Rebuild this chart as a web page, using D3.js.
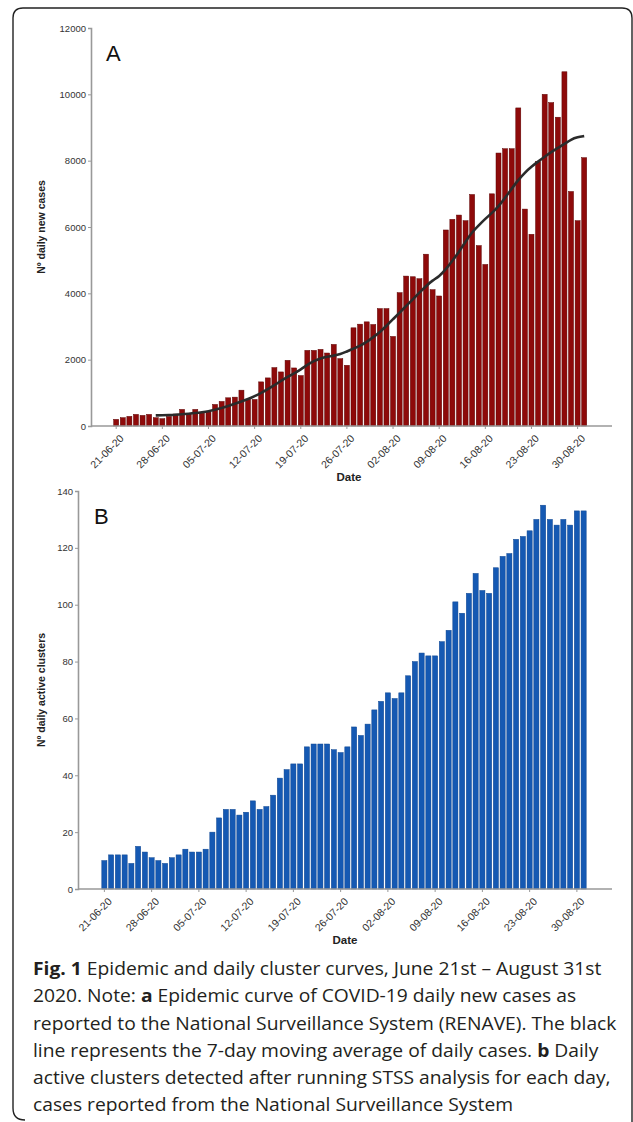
<!DOCTYPE html>
<html>
<head>
<meta charset="utf-8">
<script src="https://cdnjs.cloudflare.com/ajax/libs/d3/7.8.5/d3.min.js"></script>
<style>
  body { margin: 0; background: #fff; }
  svg { display: block; }
  .tick text { font-family: "Liberation Sans", Arial, sans-serif; fill: #333; }
</style>
</head>
<body>
<div id="chart"></div>
<script>
// day-by-day values, 21-06-20 .. 31-08-20
var dailyCases = [200, 250, 290, 350, 320, 350, 250, 220, 290, 360,
  500, 370, 500, 390, 420, 650, 740, 850, 870, 1080,
  800, 800, 1330, 1450, 1760, 1630, 1980, 1750, 1520, 2280,
  2280, 2310, 2200, 2460, 2030, 1830, 2960, 3070, 3140, 3060,
  3540, 3540, 2700, 4020, 4520, 4500, 4440, 5180, 4110, 3920,
  5910, 6230, 6360, 6190, 6980, 5440, 4870, 7000, 8230, 8360,
  8360, 9590, 6540, 5780, 7970, 10000, 9750, 9310, 10680, 7070,
  6190, 8090];

var movingAvg = [null, null, null, null, null, null, 320, 325, 330, 340,
  355, 370, 390, 415, 445, 490, 540, 600, 670, 740,
  810, 900, 1000, 1110, 1230, 1360, 1480, 1590, 1700, 1850,
  1960, 2040, 2090, 2120, 2160, 2250, 2330, 2420, 2530, 2680,
  2830, 3020, 3220, 3420, 3620, 3820, 4020, 4220, 4390, 4510,
  4720, 4980, 5250, 5560, 5850, 6050, 6250, 6420, 6620, 6880,
  7150, 7420, 7640, 7820, 7970, 8120, 8260, 8390, 8500, 8640,
  8710, 8740];

var activeClusters = [10, 12, 12, 12, 9, 15, 13, 11, 10, 9,
  11, 12, 14, 13, 13, 14, 20, 25, 28, 28,
  26, 27, 31, 28, 29, 33, 39, 42, 44, 44,
  50, 51, 51, 51, 49, 48, 50, 57, 54, 58,
  63, 66, 69, 67, 69, 75, 80, 83, 82, 82,
  87, 91, 101, 97, 104, 111, 105, 104, 113, 117,
  118, 123, 124, 126, 130, 135, 130, 128, 130, 128,
  133, 133];

var casesTicks = [0, 2000, 4000, 6000, 8000, 10000, 12000];
var clusterTicks = [0, 20, 40, 60, 80, 100, 120, 140];
var dateTicks = ["21-06-20", "28-06-20", "05-07-20", "12-07-20", "19-07-20", "26-07-20",
  "02-08-20", "09-08-20", "16-08-20", "23-08-20", "30-08-20"];

var fmt = d3.timeFormat("%d-%m-%y");
var days = d3.timeDay.range(new Date(2020, 5, 21), new Date(2020, 8, 1)).map(fmt);

var width = 633, height = 1122;
var svg = d3.select("#chart").append("svg")
  .attr("width", width)
  .attr("height", height);

// frame (right side sits on the picture edge)
svg.append("path")
  .attr("d", "M13,1108 L13,18 Q13,8 23,8 L622,8 Q632,8 632,18 L632,1130")
  .attr("fill", "none")
  .attr("stroke", "#222")
  .attr("stroke-width", 1.4);
svg.append("path")
  .attr("d", "M13,1108 Q13,1120 25,1120")
  .attr("fill", "none")
  .attr("stroke", "#222")
  .attr("stroke-width", 1.4);

function panel(opt) {
  var g = svg.append("g");

  var x = d3.scaleBand().domain(days).range(opt.xRange).paddingInner(0.24).paddingOuter(0.12);
  var y = d3.scaleLinear().domain([0, opt.yMax]).range([opt.y0, opt.y0 - 398]);

  // bars
  g.selectAll(".bar")
    .data(opt.values)
    .enter().append("rect")
    .attr("class", "bar")
    .attr("x", function(d, i) { return x(days[i]); })
    .attr("width", x.bandwidth())
    .attr("y", function(d) { return y(d); })
    .attr("height", function(d) { return opt.y0 - y(d); })
    .attr("fill", opt.fill)
    .attr("stroke", opt.stroke)
    .attr("stroke-width", 0.5);

  if (opt.line) {
    var line = d3.line()
      .defined(function(d) { return d != null; })
      .x(function(d, i) { return x(days[i]) + x.bandwidth() / 2; })
      .y(function(d) { return y(d); })
      .curve(d3.curveBasis);
    g.append("path")
      .datum(opt.line)
      .attr("d", line)
      .attr("fill", "none")
      .attr("stroke", "#2b2b2b")
      .attr("stroke-width", 2.6);
  }

  // y axis
  var yAxis = g.append("g")
    .attr("transform", "translate(" + opt.axisX + ",0)")
    .call(d3.axisLeft(y).tickValues(opt.yTicks).tickFormat(d3.format("d")).tickSize(3).tickPadding(2));
  yAxis.select(".domain").attr("stroke", "#999").attr("stroke-width", 1.6);
  yAxis.selectAll(".tick line").attr("stroke", "#999");
  yAxis.selectAll(".tick text").style("font-size", "9.5px").attr("fill", "#444");

  // x axis
  var xAxis = g.append("g")
    .attr("transform", "translate(0," + opt.y0 + ")")
    .call(d3.axisBottom(x).tickValues(dateTicks).tickSize(3).tickSizeOuter(0));
  xAxis.select(".domain").remove();
  xAxis.append("line")
    .attr("x1", opt.axisX).attr("x2", 612)
    .attr("stroke", "#999").attr("stroke-width", 1.6);
  xAxis.selectAll(".tick line").attr("stroke", "#999");
  xAxis.selectAll(".tick text")
    .style("font-size", "10.5px")
    .attr("fill", "#333")
    .attr("text-anchor", "end")
    .attr("dy", null)
    .attr("transform", "translate(4,9) rotate(-45)");

  g.append("text")
    .attr("x", opt.dateX)
    .attr("y", opt.y0 + 55)
    .attr("text-anchor", "middle")
    .style("font-family", "Liberation Sans, Arial, sans-serif")
    .style("font-weight", "bold")
    .style("font-size", "11.5px")
    .attr("fill", "#222")
    .text("Date");

  g.append("text")
    .attr("transform", "translate(" + opt.titleX + "," + (opt.y0 - 199) + ") rotate(-90)")
    .attr("text-anchor", "middle")
    .style("font-family", "Liberation Sans, Arial, sans-serif")
    .style("font-weight", "bold")
    .style("font-size", "10.5px")
    .attr("fill", "#222")
    .text(opt.title);

  g.append("text")
    .attr("x", opt.letterX)
    .attr("y", opt.y0 - 365)
    .style("font-family", "Liberation Sans, Arial, sans-serif")
    .style("font-size", "22px")
    .attr("fill", "#111")
    .text(opt.letter);
}

panel({
  values: dailyCases, line: movingAvg, yMax: 12000, yTicks: casesTicks,
  y0: 426, axisX: 91, xRange: [112.9, 587.5], dateX: 349,
  fill: "#8e0a0a", stroke: "#5c0202",
  title: "Nº daily new cases", titleX: 45, letter: "A", letterX: 106
});

panel({
  values: activeClusters, line: null, yMax: 140, yTicks: clusterTicks,
  y0: 889, axisX: 78, xRange: [101, 587], dateX: 345,
  fill: "#1559b3", stroke: "#0c4590",
  title: "Nº daily active clusters", titleX: 45, letter: "B", letterX: 94
});

// caption
var caption = [
  [["Fig. 1", true], [" Epidemic and daily cluster curves, June 21st \u2013 August 31st", false]],
  [["2020. Note: ", false], ["a", true], [" Epidemic curve of COVID-19 daily new cases as", false]],
  [["reported to the National Surveillance System (RENAVE). The black", false]],
  [["line represents the 7-day moving average of daily cases. ", false], ["b", true], [" Daily", false]],
  [["active clusters detected after running STSS analysis for each day,", false]],
  [["cases reported from the National Surveillance System", false]]
];

var cap = svg.append("g");
var lines = cap.selectAll("text")
  .data(caption)
  .enter().append("text")
  .attr("x", 0)
  .attr("y", function(d, i) { return i * 27.3; })
  .style("font-family", "Open Sans, sans-serif")
  .style("font-size", "18px")
  .attr("fill", "#231f20");
lines.selectAll("tspan")
  .data(function(d) { return d; })
  .enter().append("tspan")
  .style("font-weight", function(d) { return d[1] ? "bold" : "normal"; })
  .text(function(d) { return d[0]; });

var w1 = lines.nodes()[0].getComputedTextLength();
cap.attr("transform", "translate(33,975) scale(" + (569 / w1) + ",1)");
</script>
</body>
</html>
